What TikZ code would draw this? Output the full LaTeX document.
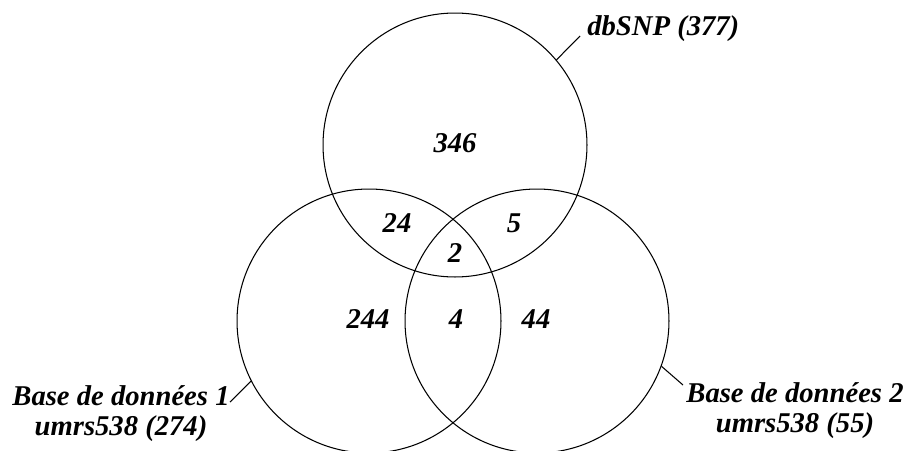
\documentclass[tikz,border=0pt]{standalone}
\usepackage{fontspec}
\setmainfont{Liberation Serif}
\newcommand{\setrad}{5.28cm}

\begin{document}
\begin{tikzpicture}[
    x=0.02cm, y=-0.02cm,
    setcircle/.style={draw, circle, minimum size=\setrad, inner sep=0pt, line width=0.6pt},
    count/.style={font=\fontsize{16.3}{17}\selectfont\bfseries\itshape, inner sep=0pt},
    setlbl/.style={count, align=center},
    leader/.style={line width=0.6pt},
]

\useasboundingbox (0,0) rectangle (913,450);

% The three sets
\node[setcircle] (dbsnp) at (455,145) {};
\node[setcircle] (base1) at (369,321) {};
\node[setcircle] (base2) at (537,321) {};

% Region counts
\foreach \n/\x/\y in {346/455/143, 24/397/223, 5/514/223, 2/455/253, 244/368/319, 4/456/319, 44/536/319} {
    \node[count] (n\n) at (\x,\y) {\n};
}

% Set labels (base = baseline of the last line)
\node[setlbl, anchor=base west] (lbldb) at (587,35) {dbSNP (377)};
\node[setlbl, anchor=base] (lbl1) at (121,435) {Base de données 1\\umrs538 (274)};
\node[setlbl, anchor=base] (lbl2) at (795,432) {Base de données 2\\umrs538 (55)};

% Leader lines
\coordinate (enddb) at (580,36);
\coordinate (end1) at (230,402);
\coordinate (end2) at (683,385);
\draw[leader] (dbsnp.40) -- (enddb);
\draw[leader] (base1.207) -- (end1);
\draw[leader] (base2.-20) -- (end2);

\end{tikzpicture}
\end{document}
